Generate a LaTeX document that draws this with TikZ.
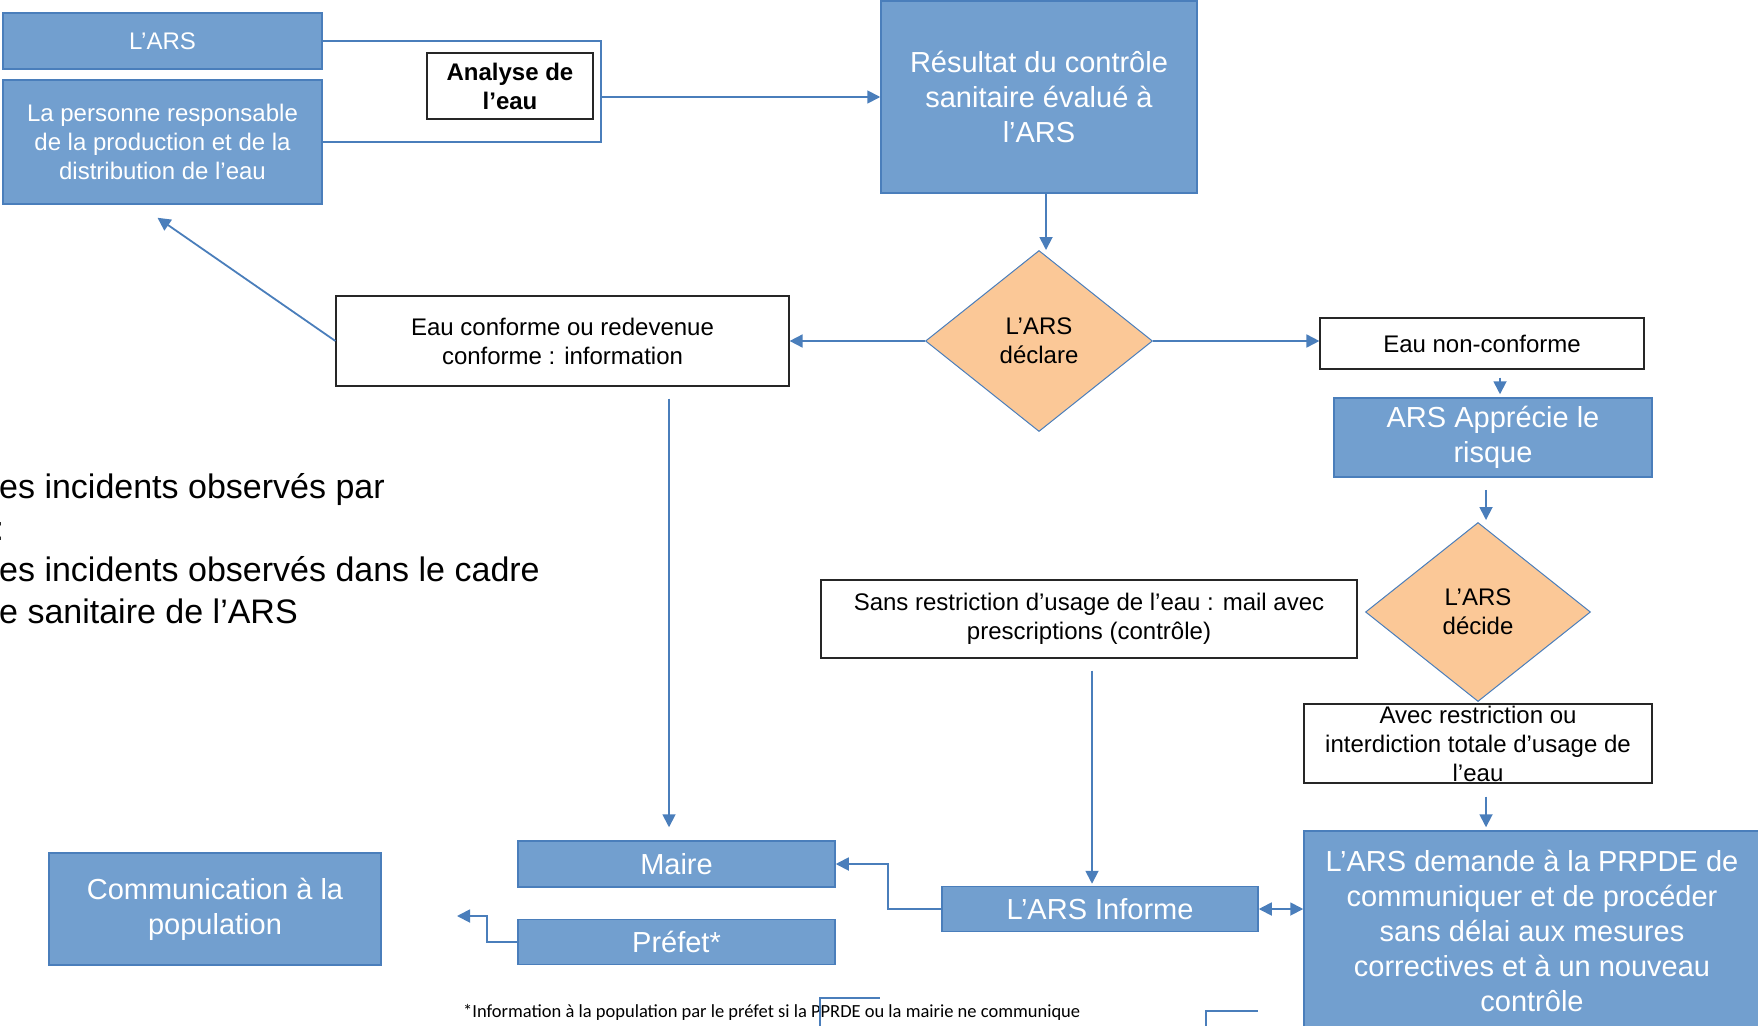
\documentclass[tikz,border=0pt]{standalone}
\usepackage{fontspec}
\setmainfont{Liberation Sans}
\newfontfamily\notefont{Carlito}
\usepackage{xcolor}
\usetikzlibrary{arrows.meta,shapes.geometric}

\definecolor{boxblue}{HTML}{729FCF}
\definecolor{edgeblue}{HTML}{4A7EBB}
\definecolor{decisionorange}{HTML}{FBC897}

\begin{document}
\begin{tikzpicture}[x=1pt, y=-1pt, >={Triangle[length=13pt,width=13pt]},
    blue node/.style={rectangle, draw=edgeblue, line width=1.5pt, fill=boxblue,
      text=white, align=center, inner sep=0pt, font=\fontsize{29}{35}\selectfont},
    text node/.style={rectangle, draw=black!85, line width=1.2pt, fill=white,
      align=center, inner sep=0pt, font=\fontsize{24}{29}\selectfont},
    decision node/.style={diamond, draw=edgeblue, line width=1pt, fill=decisionorange,
      align=center, inner sep=0pt, font=\fontsize{24}{29}\selectfont},
    link/.style={draw=edgeblue, line width=1.8pt},
    thin link/.style={draw=edgeblue, line width=1.2pt}]

  \useasboundingbox (0,0) rectangle (1758,1025);
  \clip (0,0) rectangle (1758,1025);

  % left column
  \node[blue node, minimum width=319pt, minimum height=56pt,
        font=\fontsize{24}{29}\selectfont] (ars) at (162.5,41) {L’ARS};
  \node[blue node, minimum width=319pt, minimum height=124pt,
        font=\fontsize{24}{29}\selectfont] (prpde) at (162.5,142)
        {La personne responsable\\de la production et de la\\distribution de l’eau};
  \node[text node, minimum width=166pt, minimum height=66pt,
        font=\fontsize{24}{29}\selectfont\bfseries] (analyse) at (510,86) {Analyse de\\l’eau};
  \coordinate (brk) at (601,97);

  % top chain
  \node[blue node, minimum width=316pt, minimum height=192pt] (resultat) at (1039,97)
        {Résultat du contrôle\\sanitaire évalué à\\l’ARS};
  \node[decision node, minimum width=227pt, minimum height=181pt] (declare) at (1039,341)
        {L’ARS\\déclare};
  \node[text node, minimum width=453pt, minimum height=90pt] (conforme) at (562.5,341)
        {Eau conforme ou redevenue\\conforme : information};
  \node[text node, minimum width=324pt, minimum height=51pt] (nonconf) at (1482,343.5)
        {Eau non-conforme};
  \node[blue node, minimum width=318pt, minimum height=79pt] (apprecie) at (1493,437.5)
        {ARS Apprécie le\\risque};
  \node[decision node, minimum width=225pt, minimum height=179pt] (decide) at (1478,612)
        {L’ARS\\décide};
  \node[text node, minimum width=536pt, minimum height=78pt] (sans) at (1089,619)
        {Sans restriction d’usage de l’eau : mail avec\\prescriptions (contrôle)};
  \node[text node, minimum width=348pt, minimum height=79pt] (avec) at (1478,743.5)
        {Avec restriction ou\\interdiction totale d’usage de\\l’eau};
  \node[blue node, minimum width=456pt, minimum height=200pt] (demande) at (1532,931)
        {L’ARS demande à la PRPDE de\\communiquer et de procéder\\sans délai aux mesures\\correctives et à un nouveau\\contrôle};

  % bottom row
  \node[blue node, minimum width=316pt, minimum height=45pt] (informe) at (1100,909) {L’ARS Informe};
  \node[blue node, minimum width=317pt, minimum height=46pt] (maire) at (676.5,864) {Maire};
  \node[blue node, minimum width=317pt, minimum height=45pt] (prefet) at (676.5,942) {Préfet*};
  \node[blue node, minimum width=332pt, minimum height=112pt] (commu) at (215,909)
        {Communication à la\\population};
  \coordinate (commtip) at (457,916);

  % loose texts
  \node[anchor=base west, align=left, inner sep=0pt, font=\fontsize{34}{41.5}\selectfont] (incidents) at (-1,623)
        {es incidents observés par\\\hspace*{-4.5pt}:\\es incidents observés dans le cadre\\e sanitaire de l’ARS};
  \node[anchor=base west, inner sep=0pt, font=\notefont\fontsize{18.5}{22}\selectfont] (note) at (463,1017)
        {*Information à la population par le préfet si la PPRDE ou la mairie ne communique};

  % connectors
  \draw[thin link] (ars.east) -| (brk) |- (prpde.east);
  \draw[link, ->] (brk) -- (brk -| resultat.west);
  \draw[link, ->] ([xshift=7pt]resultat.south) -- ([xshift=7pt]declare.north);
  \draw[link, ->] (declare.west) -- (conforme.east);
  \draw[link, ->] (declare.east) -- (declare.east -| nonconf.west);
  \draw[link, ->] (conforme.west) -- ([shift={(-5,13)}]prpde.south);
  \draw[link, ->, shorten <=8pt, shorten >=3pt] ([xshift=18pt]nonconf.south) -- ([xshift=18pt]nonconf.south |- apprecie.north);
  \draw[link, ->, shorten <=12pt, shorten >=2pt] ([xshift=-7pt]apprecie.south) -- ([xshift=-7pt]apprecie.south |- decide.north);
  \draw[link, ->, shorten <=12pt, shorten >=2pt] ([xshift=3pt]sans.south) -- ([xshift=3pt]sans.south |- informe.north);
  \draw[link, ->, shorten <=13pt, shorten >=3pt] ([xshift=8pt]avec.south) -- ([xshift=8pt]avec.south |- demande.north);
  \draw[link, <->] (informe.east) -- (informe.east -| demande.west);
  \draw[link, ->] (informe.west) -- ++(-53,0) |- (maire.east);
  \draw[link, ->, shorten <=12pt, shorten >=13pt] ([xshift=106.5pt]conforme.south) -- ([xshift=106.5pt]conforme.south |- maire.north);
  \draw[link, ->] (prefet.west) -- ++(-30,0) |- (commtip);

  % cut-off shapes at the lower edge
  \draw[thin link] (820,1030) |- (880,998);
  \draw[thin link] (1206,1030) |- (1258,1011);
\end{tikzpicture}
\end{document}
